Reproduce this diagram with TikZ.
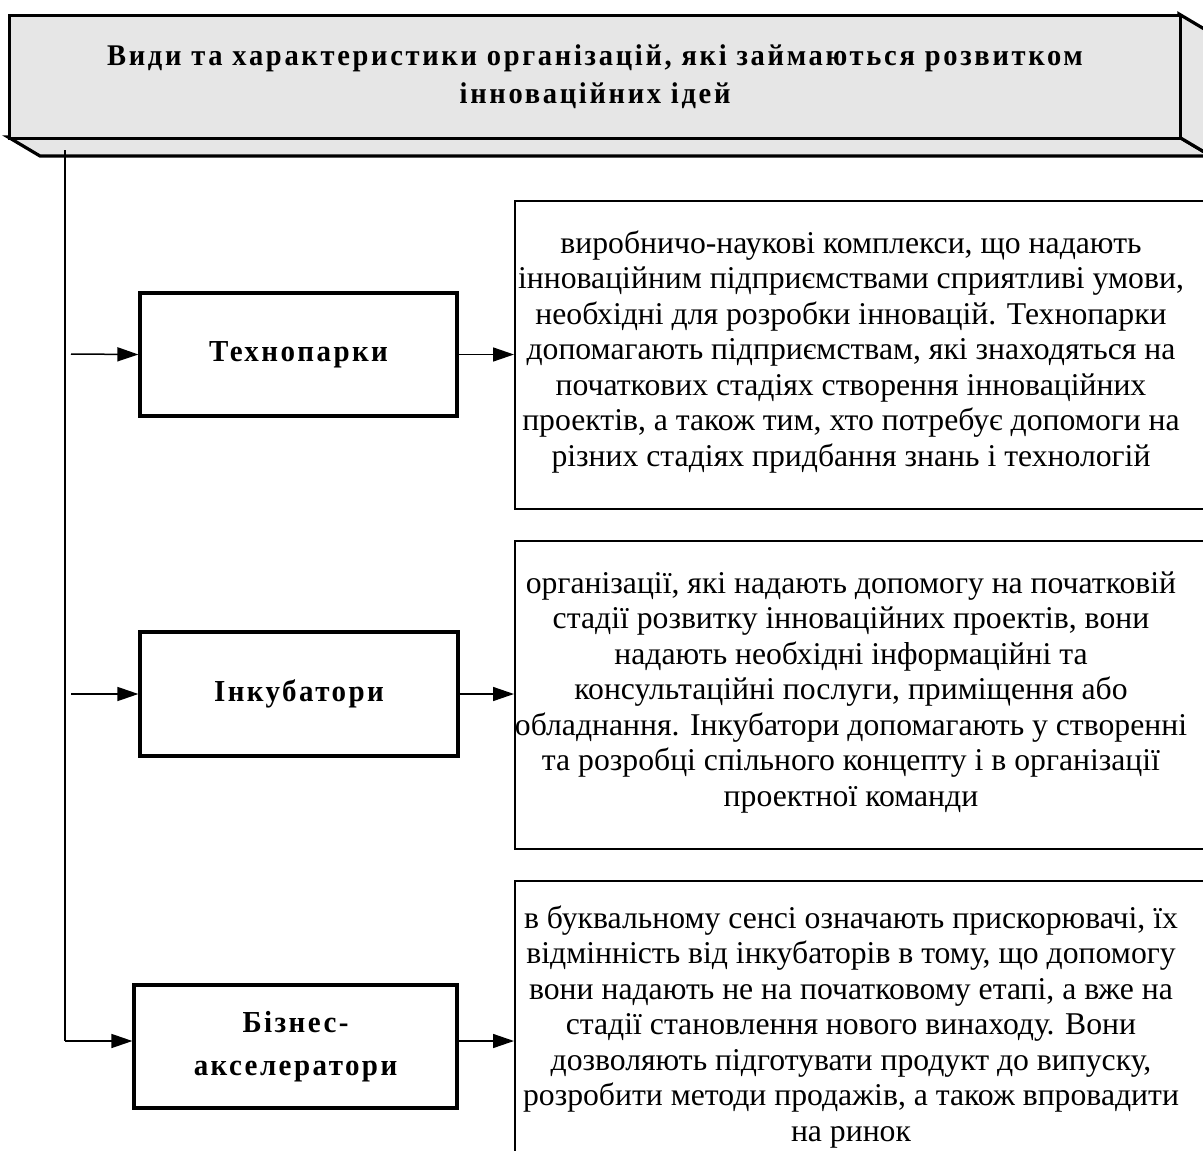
\documentclass[tikz,border=0pt]{standalone}
\usepackage{fontspec}
\setmainfont{Liberation Serif}
\usetikzlibrary{arrows.meta,calc}
\definecolor{headfill}{RGB}{230,230,230}
\tikzset{
  face/.style={draw=black, fill=headfill, line width=3.2pt, line join=miter},
  kindbox/.style={draw=black, line width=3.2pt, minimum width=317pt, minimum height=123pt,
    align=center, inner sep=0pt,
    font=\fontsize{30.5}{43}\selectfont\bfseries\addfontfeature{LetterSpace=8,FakeStretch=0.95}},
  descframe/.style={draw=black, line width=1.7pt, anchor=north west, inner sep=0pt},
  desc/.style={align=center, inner sep=0pt, font=\fontsize{31.7}{35.5}\selectfont},
  trunk/.style={line width=1.5pt},
  link/.style={line width=1.5pt, -{Triangle[length=21pt,width=14pt]}},
}
\begin{document}
\begin{tikzpicture}[x=1pt,y=-1pt]
\useasboundingbox (0,0) rectangle (1203,1151);
\begin{scope}
\clip (0,0) rectangle (1203,1151);

% raised title block: bottom and right faces, then the front face
\draw[face] (8,137) -- (1179,137) -- (1211,156) -- (40,156) -- cycle;
\draw[face] (1179,14) -- (1211,33) -- (1211,156) -- (1179,137) -- cycle;
\node[face, anchor=north west, minimum width=1171pt, minimum height=123pt, inner sep=0pt,
  align=center, font=\fontsize{30}{38}\selectfont\bfseries\addfontfeature{LetterSpace=9,FakeStretch=0.95}]
  (head) at (8,14) {Види та характеристики організацій, які займаються розвитком\\інноваційних ідей};

% the three kinds of organisations
\node[kindbox] (tp)  at (298.5,354.5) {Технопарки};
\node[kindbox, minimum width=318pt, minimum height=124pt] (inc) at (299,694) {Інкубатори};
\node[kindbox, minimum width=323pt] (biz) at (295.5,1046.5) {Бізнес-\\акселератори};

% description frames (they run past the right and bottom edges)
\node[descframe, minimum width=720pt, minimum height=308pt] (f1) at (514,200) {};
\node[descframe, minimum width=720pt, minimum height=308pt] (f2) at (514,540) {};
\node[descframe, minimum width=720pt, minimum height=320pt] (f3) at (514,880) {};

\node[desc] (t1) at (851,352) {виробничо-наукові комплекси, що надають\\
інноваційним підприємствами сприятливі умови,\\
необхідні для розробки інновацій. Технопарки\\
допомагають підприємствам, які знаходяться на\\
початкових стадіях створення інноваційних\\
проектів, а також тим, хто потребує допомоги на\\
різних стадіях придбання знань і технологій};

\node[desc] (t2) at (851,692.5) {організації, які надають допомогу на початковій\\
стадії розвитку інноваційних проектів, вони\\
надають необхідні інформаційні та\\
консультаційні послуги, приміщення або\\
обладнання. Інкубатори допомагають у створенні\\
та розробці спільного концепту і в організації\\
проектної команди};

\node[desc] (t3) at (851,1027) {в буквальному сенсі означають прискорювачі, їх\\
відмінність від інкубаторів в тому, що допомогу\\
вони надають не на початковому етапі, а вже на\\
стадії становлення нового винаходу. Вони\\
дозволяють підготувати продукт до випуску,\\
розробити методи продажів, а також впровадити\\
на ринок};

% trunk line from the title block with its branches
\coordinate (top) at (65,150);
\coordinate (corner) at (65,1041);
\coordinate (b1) at (71,354);
\coordinate (b2) at (71,694);
\draw[trunk] (top) -- (corner);
\draw[link] (b1) -- (tp.west);
\draw[link] (b2) -- (inc.west);
\draw[link] (corner) -- ([yshift=5.5pt]biz.west);

% arrows from each kind to its description
\draw[link] (tp.east) -- (tp.east -| f1.west);
\draw[link] (inc.east) -- (inc.east -| f2.west);
\draw[link] ([yshift=5.5pt]biz.east) -- ([yshift=5.5pt]biz.east -| f3.west);
\end{scope}
\end{tikzpicture}
\end{document}
